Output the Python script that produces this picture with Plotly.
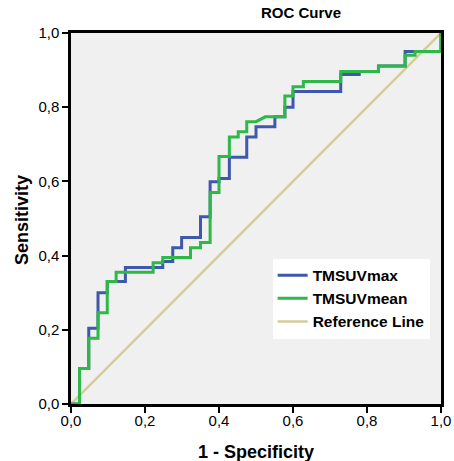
import plotly.graph_objects as go

# ROC coordinates (1 - Specificity, Sensitivity)
fpr_max = [0, 0.023, 0.023, 0.048, 0.048, 0.073, 0.073, 0.098, 0.098, 0.147, 0.147,
           0.248, 0.248, 0.275, 0.275, 0.299, 0.299, 0.35, 0.35, 0.376, 0.376,
           0.40, 0.40, 0.428, 0.428, 0.475, 0.475, 0.50, 0.50, 0.551, 0.551,
           0.578, 0.578, 0.60, 0.60, 0.729, 0.729, 0.779, 0.779, 0.831, 0.831,
           0.903, 0.903, 1.0, 1.0]
tpr_max = [0, 0, 0.096, 0.096, 0.204, 0.204, 0.30, 0.30, 0.33, 0.33, 0.368,
           0.368, 0.384, 0.384, 0.421, 0.421, 0.449, 0.449, 0.505, 0.505, 0.599,
           0.599, 0.608, 0.608, 0.665, 0.665, 0.72, 0.72, 0.747, 0.747, 0.774,
           0.774, 0.80, 0.80, 0.842, 0.842, 0.888, 0.888, 0.896, 0.896, 0.911,
           0.911, 0.95, 0.95, 1.0]

fpr_mean = [0, 0.023, 0.023, 0.048, 0.048, 0.073, 0.073, 0.098, 0.098, 0.122, 0.122,
            0.222, 0.222, 0.248, 0.248, 0.323, 0.323, 0.35, 0.35, 0.376, 0.376,
            0.40, 0.40, 0.428, 0.428, 0.452, 0.452, 0.475, 0.475, 0.50, 0.525,
            0.578, 0.578, 0.60, 0.60, 0.628, 0.628, 0.729, 0.729, 0.831, 0.831,
            0.903, 0.903, 0.93, 0.93, 1.0, 1.0]
tpr_mean = [0, 0, 0.096, 0.096, 0.177, 0.177, 0.246, 0.246, 0.33, 0.33, 0.355,
            0.355, 0.381, 0.381, 0.395, 0.395, 0.421, 0.421, 0.435, 0.435, 0.57,
            0.57, 0.667, 0.667, 0.72, 0.72, 0.734, 0.734, 0.761, 0.761, 0.774,
            0.774, 0.83, 0.83, 0.855, 0.855, 0.869, 0.869, 0.896, 0.896, 0.911,
            0.911, 0.94, 0.94, 0.95, 0.95, 1.0]

ref_x = [0, 1]
ref_y = [0, 1]

tick_vals = [0, 0.2, 0.4, 0.6, 0.8, 1.0]
tick_text = ["0,0", "0,2", "0,4", "0,6", "0,8", "1,0"]

FONT = "Arial, Liberation Sans, sans-serif"

fig = go.Figure()
fig.add_trace(go.Scatter(x=ref_x, y=ref_y, mode="lines", name="<b>Reference Line</b>",
                         line=dict(color="#D3CE97", width=2.5), legendrank=3))
fig.add_trace(go.Scatter(x=fpr_max, y=tpr_max, mode="lines", name="<b>TMSUVmax</b>",
                         line=dict(color="#3E58AC", width=3), legendrank=1))
fig.add_trace(go.Scatter(x=fpr_mean, y=tpr_mean, mode="lines", name="<b>TMSUVmean</b>",
                         line=dict(color="#2EB848", width=3), legendrank=2))

axis_common = dict(range=[0, 1], tickvals=tick_vals, ticktext=tick_text,
                   showgrid=False, zeroline=False, showline=True, mirror=True,
                   linecolor="black", linewidth=2.5, ticks="outside", ticklen=6,
                   tickwidth=1.5, tickcolor="black", automargin=False,
                   tickfont=dict(family=FONT, size=15, color="black"))

fig.update_layout(
    width=454, height=461,
    margin=dict(l=71, r=13, t=33, b=57, autoexpand=False),
    paper_bgcolor="white", plot_bgcolor="#F0F0F0",
    xaxis=dict(**axis_common, ticklabelstandoff=-5),
    yaxis=dict(**axis_common),
    showlegend=True,
    legend=dict(x=0.545, y=0.392, xanchor="left", yanchor="top",
                bgcolor="white", borderwidth=0,
                font=dict(family=FONT, size=15.5, color="black"),
                tracegroupgap=0, itemwidth=30),
    annotations=[
        dict(text="<b>ROC Curve</b>", xref="paper", yref="paper",
             x=(301 - 71) / 370, y=(404 - 13) / 371, showarrow=False,
             xanchor="center", yanchor="middle",
             font=dict(family=FONT, size=15, color="black")),
        dict(text="<b>1 - Specificity</b>", xref="paper", yref="paper",
             x=0.5, y=(404 - 452) / 371, showarrow=False,
             xanchor="center", yanchor="middle",
             font=dict(family=FONT, size=18, color="black")),
        dict(text="<b>Sensitivity</b>", xref="paper", yref="paper",
             x=(22 - 71) / 370, y=(404 - 220) / 371, showarrow=False,
             xanchor="center", yanchor="middle", textangle=-90,
             font=dict(family=FONT, size=18, color="black")),
    ],
)

fig.write_html("out.html",
               config={"displayModeBar": False},
               post_script="document.body.style.margin='0';document.body.style.overflow='hidden';")
